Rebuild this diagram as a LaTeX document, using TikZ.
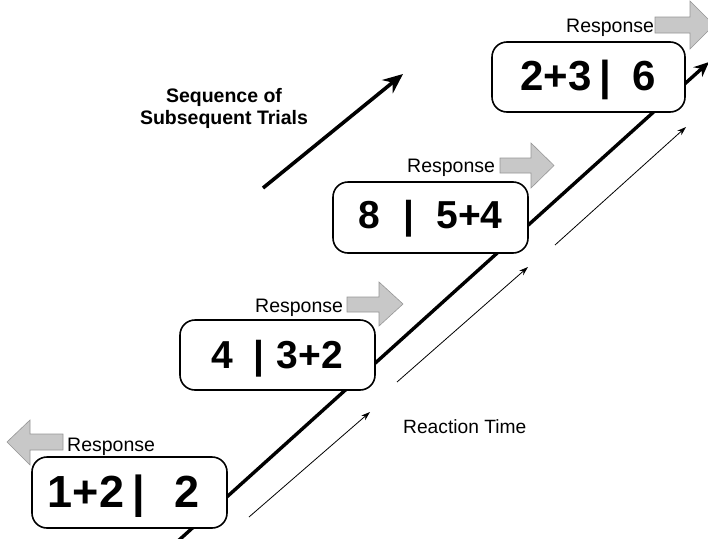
\documentclass[tikz,border=0pt]{standalone}
\usepackage{fontspec}
\setmainfont{Liberation Sans}
\usetikzlibrary{arrows.meta}
\definecolor{arrowfill}{RGB}{200,200,200}
\definecolor{arrowedge}{RGB}{150,150,150}
\begin{document}
\begin{tikzpicture}[x=1pt,y=-1pt,
  trialbox/.style={draw=black, line width=1.6pt, rounded corners=15pt, fill=white, minimum width=195pt, minimum height=71pt, inner sep=0pt},
  bignum/.style={anchor=base, inner sep=0pt, font=\fontsize{#1}{#1}\selectfont\bfseries},
  resp/.style={anchor=base west, inner sep=0pt, font=\fontsize{19.5}{23}\selectfont},
  thinarrow/.style={line width=0.8pt, -{Stealth[length=9pt,width=6pt]}},
  mainline/.style={line width=3.4pt, -{Stealth[length=15pt,width=13pt]}},
  seqarrow/.style={line width=3.6pt, -{Stealth[length=20pt,width=17pt]}},
  grayarrow/.style={fill=arrowfill, draw=arrowedge, line width=0.6pt}
]
\useasboundingbox (0,0) rectangle (708,538);
\clip (0,0) rectangle (708,538);

% main thick line
\coordinate (ls) at (178,541);
\coordinate (le) at (709,62);
\draw[mainline] (ls) -- (le);

% thin reaction-time arrows
\coordinate (t1s) at (249,517); \coordinate (t1e) at (370,412);
\coordinate (t2s) at (397,382); \coordinate (t2e) at (528,267);
\coordinate (t3s) at (555,245); \coordinate (t3e) at (686,127);
\draw[thinarrow] (t1s) -- (t1e);
\draw[thinarrow] (t2s) -- (t2e);
\draw[thinarrow] (t3s) -- (t3e);

% sequence arrow
\coordinate (ss) at (263,188);
\coordinate (se) at (403,74);
\draw[seqarrow] (ss) -- (se);

% boxes
\node[trialbox] (b1) at (129.5,492.5) {};
\node[trialbox, minimum height=70pt] (b2) at (277.5,355) {};
\node[trialbox] (b3) at (430.5,217.5) {};
\node[trialbox, minimum width=193pt, minimum height=70pt] (b4) at (588.5,77) {};

% box texts
\node[bignum=45] (n1a) at (86,507) {1+2};
\node[bignum=45] (n1b) at (138.5,507) {|};
\node[bignum=45] (n1c) at (187,507) {2};

\node[bignum=39] (n2a) at (222,368) {4};
\node[bignum=39] (n2b) at (258.5,368) {|};
\node[bignum=39] (n2c) at (310,368) {3+2};

\node[bignum=39] (n3a) at (369,228) {8};
\node[bignum=39] (n3b) at (408.5,228) {|};
\node[bignum=39] (n3c) at (469.5,228) {5+4};

\node[bignum=42] (n4a) at (556,90) {2+3};
\node[bignum=42] (n4b) at (605.5,90) {|};
\node[bignum=42] (n4c) at (644,90) {6};

% gray block arrows
\draw[grayarrow] (63,434) -- (30,434) -- (30,420) -- (7,442) -- (30,465) -- (30,450) -- (63,450) -- cycle;
\draw[grayarrow] (347,297) -- (379,297) -- (379,282) -- (403,304) -- (379,326) -- (379,312) -- (347,312) -- cycle;
\draw[grayarrow] (500,158) -- (531,158) -- (531,143) -- (554,165.5) -- (531,188) -- (531,173) -- (500,173) -- cycle;
\draw[grayarrow] (655,17) -- (690,17) -- (690,1) -- (714,25) -- (690,49) -- (690,33) -- (655,33) -- cycle;

% response labels
\node[resp] (r1) at (67,451) {Response};
\node[resp] (r2) at (255,312) {Response};
\node[resp] (r3) at (407,172) {Response};
\node[resp] (r4) at (566,32) {Response};

% other labels
\node[anchor=north, inner sep=0pt, align=center, font=\fontsize{19.5}{22.5}\selectfont\bfseries] (seq) at (224,88) {Sequence of\\Subsequent Trials};
\node[anchor=base west, inner sep=0pt, font=\fontsize{19.2}{22}\selectfont] (rt) at (403,433) {Reaction Time};
\end{tikzpicture}
\end{document}
